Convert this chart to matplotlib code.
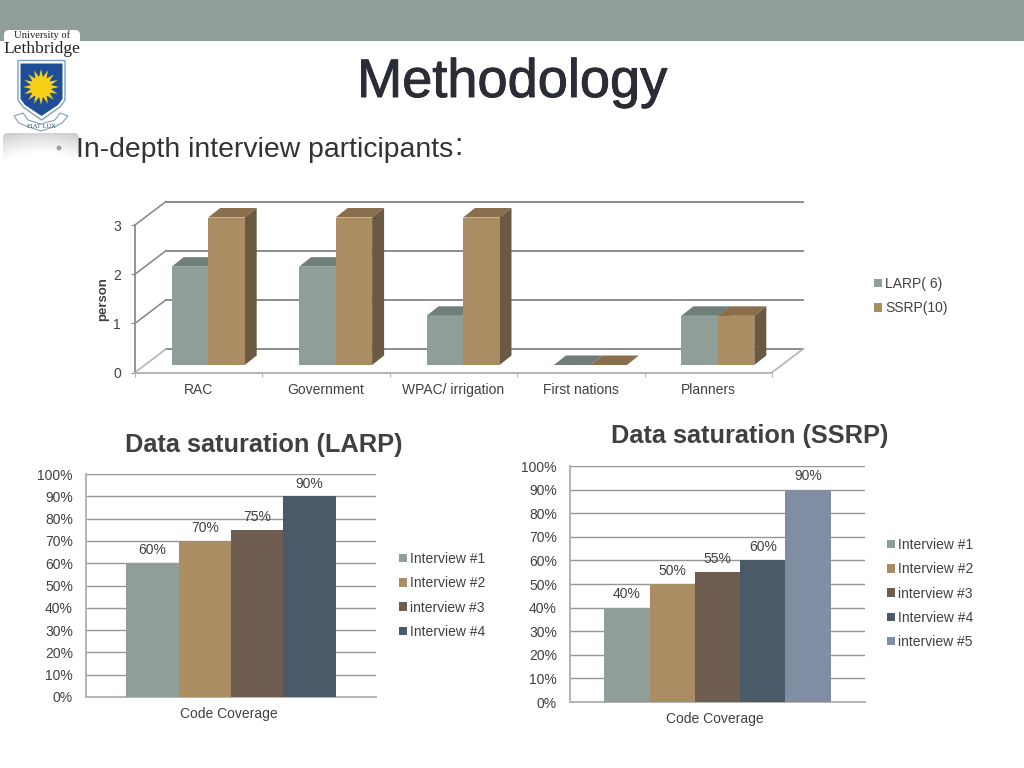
import numpy as np
import matplotlib
matplotlib.use("Agg")
import matplotlib.pyplot as plt
import matplotlib.patheffects as pe
from matplotlib.patches import FancyBboxPatch, Polygon, Rectangle, Circle

plt.rcParams['font.family'] = ['Liberation Sans', 'DejaVu Sans']
W, H = 1024, 768
TXT = '#404040'
GRID = '#8c8c8c'
LIGHT = '#b4b4b4'

# ---- data ----
part_categories = ['RAC', 'Government', 'WPAC/ irrigation', 'First nations', 'Planners']
larp_people = [2, 2, 1, 0, 1]
ssrp_people = [3, 3, 3, 0, 1]
part_series = ['LARP( 6)', 'SSRP(10)']
part_ticks = [0, 1, 2, 3]

larp_series = ['Interview #1', 'Interview #2', 'interview #3', 'Interview #4']
larp_values = [60, 70, 75, 90]
ssrp_series = ['Interview #1', 'Interview #2', 'interview #3', 'Interview #4', 'interview #5']
ssrp_values = [40, 50, 55, 60, 90]
pct_ticks = [0, 10, 20, 30, 40, 50, 60, 70, 80, 90, 100]

TEAL, TAN, BROWN, NAVY, SLATE = '#8F9F98', '#AB8D64', '#705D51', '#4A5A69', '#808DA2'
palette = [TEAL, TAN, BROWN, NAVY, SLATE]

fig = plt.figure(figsize=(W / 100, H / 100), dpi=100, facecolor='white')

def px_axes(l, t, r, b, **kw):
    return fig.add_axes([l / W, 1 - b / H, (r - l) / W, (b - t) / H], **kw)

# ---- slide decoration in pixel coordinates ----
bg = px_axes(0, 0, W, H)
bg.set_xlim(0, W); bg.set_ylim(H, 0); bg.axis('off')
bg.add_patch(Rectangle((0, 0), W, 41, fc='#8F9F98', ec='none'))
# logo card
bg.add_patch(FancyBboxPatch((7, 33), 70, 30, boxstyle='round,pad=3,rounding_size=5', fc='white', ec='none'))
bg.text(42, 35, 'University of', family='Liberation Serif', fontsize=7.6, color='#222222', ha='center', va='center')
bg.text(41.5, 49, 'Lethbridge', family='Liberation Serif', fontsize=12.6, color='#222222', ha='center', va='center')
# shield
bg.add_patch(Polygon([(18, 60.5), (65, 60.5), (65, 100), (60, 107), (41.5, 120), (23, 107), (18, 100)],
                     fc='white', ec='#7f9fc4', lw=1.0))
bg.add_patch(Polygon([(20.5, 63.5), (62.5, 63.5), (62.5, 99), (58, 105), (41.5, 116), (25, 105), (20.5, 99)],
                     fc='#1f4e96', ec='none'))
ang = np.linspace(0, 2 * np.pi, 33)[:-1]
rad = np.where(np.arange(32) % 2 == 0, 18, 10)
bg.add_patch(Polygon(np.c_[41 + rad * np.cos(ang), 87 + rad * np.sin(ang)], fc='#f7cf17', ec='none'))
bg.add_patch(Circle((41, 87), 10.5, fc='#f7cf17', ec='none'))
bg.add_patch(Polygon([(14, 116), (23, 113), (28, 120), (41, 124), (55, 120), (60, 113), (68, 116), (62, 123),
                      (56, 126), (41, 131), (26, 126), (19, 123)],
                     fc='white', ec='#7f9fc4', lw=0.8))
bg.text(41, 126, 'FIAT LUX', family='Liberation Serif', fontsize=4.8, color='#33506e', ha='center', va='center')
# bullet tile
yy = np.linspace(0, 1, 40)[:, None]
xx = np.linspace(-1, 1, 100)[None, :]
grad = 0.78 + 0.21 * yy ** 0.8 + 0.05 * (1 - xx ** 2) * (yy > -1)
tile = bg.imshow(np.clip(grad, 0, 1), extent=(3, 79, 160, 133), cmap='gray', vmin=0, vmax=1, aspect='auto', zorder=1)
clip = FancyBboxPatch((6, 136), 70, 22, boxstyle='round,pad=3,rounding_size=5', fc='none', ec='none', transform=bg.transData)
bg.add_patch(clip)
tile.set_clip_path(clip)
bg.set_xlim(0, W); bg.set_ylim(H, 0)
bg.add_patch(Circle((59, 148), 2.5, fc='#9aa5a0', ec='none', zorder=2))

fig.text(512 / W, 1 - 97 / H, 'Methodology', fontsize=39, color='#2a2d35', ha='center', va='baseline',
         path_effects=[pe.withStroke(linewidth=0.7, foreground='#2a2d35')])
fig.text(76 / W, 1 - 157 / H, 'In-depth interview participants', fontsize=20.4, color='#333333', ha='left', va='baseline')
fig.text(454 / W, 1 - 155 / H, ':', fontsize=22, color='#333333', ha='left', va='baseline')

# ---- pseudo-3D column chart ----
ax = px_axes(135, 225, 772, 372.5)
ax.patch.set_alpha(0)
ax.set_xlim(0, 5); ax.set_ylim(0, 3)
ux, uy = 5 / 637, 3 / 147.5          # data units per pixel
wall_dx, wall_dy = 31 * ux, 23.5 * uy  # depth of the back wall
bar_dx, bar_dy = 9.5 * ux, 7.5 * uy    # front of the bars relative to the floor edge
dep_dx, dep_dy = 12 * ux, 9.5 * uy     # depth of a bar
bw = 36.5 * ux
for s in ['top', 'right']:
    ax.spines[s].set_visible(False)
ax.spines['left'].set_color(GRID); ax.spines['left'].set_linewidth(1.3)
ax.spines['bottom'].set_color(LIGHT); ax.spines['bottom'].set_linewidth(1.4)
for t in part_ticks:
    ax.plot([wall_dx, 5 + wall_dx], [t + wall_dy, t + wall_dy], color=GRID, lw=1.4, clip_on=False, zorder=1)
    ax.plot([0, wall_dx], [t, t + wall_dy], color=GRID if t else LIGHT, lw=1.2, clip_on=False, zorder=1)
ax.plot([5, 5 + wall_dx], [0, wall_dy], color=LIGHT, lw=1.2, clip_on=False, zorder=1)

x = np.arange(len(part_categories)) + 0.5
series = [(larp_people, -1, TEAL, '#6F7F78', '#6F7F78'), (ssrp_people, 0, TAN, '#8A6F4D', '#6B5A42')]
for vals, off, face, top, side in series:
    for xi, v in zip(x, vals):
        x0 = xi + off * bw + bar_dx
        x1 = x0 + bw
        y0, y1 = bar_dy, v + bar_dy
        ax.add_patch(Polygon([(x0, y1), (x1, y1), (x1 + dep_dx, y1 + dep_dy), (x0 + dep_dx, y1 + dep_dy)],
                             fc=top, ec='none', clip_on=False, zorder=3))
        ax.add_patch(Polygon([(x1, y0), (x1 + dep_dx, y0 + dep_dy), (x1 + dep_dx, y1 + dep_dy), (x1, y1)],
                             fc=side, ec='none', clip_on=False, zorder=3))
    ax.bar(x + off * bw + bar_dx, vals, width=bw, bottom=bar_dy, align='edge', color=face, zorder=4, clip_on=False)

ax.set_yticks(part_ticks)
ax.set_xticks(np.arange(6))
ax.set_xticklabels([])
ax.set_xticks(x, minor=True)
ax.set_xticklabels(part_categories, minor=True)
ax.tick_params(axis='x', which='minor', length=0, labelsize=10, labelcolor=TXT, pad=7.5)
ax.tick_params(axis='x', which='major', length=3, color=LIGHT)
ax.tick_params(axis='y', length=3, color=GRID, labelsize=10, labelcolor=TXT, pad=7)
ax.set_ylabel('person', fontsize=9.5, fontweight='bold', color=TXT, labelpad=3)
h = [Rectangle((0, 0), 1, 1, fc=TEAL), Rectangle((0, 0), 1, 1, fc=TAN)]

def legend(axis, handles, labels, lx, ly):
    axis.legend(handles, labels, loc='upper left', bbox_to_anchor=(lx / W, 1 - ly / H),
                bbox_transform=fig.transFigure, frameon=False, fontsize=10, labelcolor=TXT,
                handlelength=0.55, handleheight=0.55, handletextpad=0.25, borderpad=0,
                borderaxespad=0, labelspacing=0.74)

legend(ax, h, part_series, 874, 277)

# ---- 2D percent charts ----
def pct_chart(rect, values, labels, title, title_xy, group, leg_xy):
    a = px_axes(*rect)
    a.patch.set_alpha(0)
    a.set_xlim(0, 1); a.set_ylim(0, 100)
    n = len(values)
    bw2 = group / n
    start = 0.5 - group / 2
    handles = []
    for i, v in enumerate(values):
        c = a.bar(start + i * bw2, v, width=bw2, align='edge', color=palette[i], zorder=3)
        handles.append(c[0])
        a.text(start + (i + 0.5) * bw2, v + 2.6, f'{v}%', ha='center', va='bottom', fontsize=10, color=TXT, zorder=4)
    a.set_yticks(pct_ticks)
    a.set_yticklabels([f'{t}%' for t in pct_ticks])
    a.yaxis.grid(True, color='#969696', lw=1.0, zorder=0)
    a.set_axisbelow(True)
    a.set_xticks([0, 1]); a.set_xticklabels([])
    a.tick_params(axis='x', length=0)
    a.tick_params(axis='y', length=0, labelsize=10, labelcolor=TXT, pad=9.4)
    for s in a.spines.values():
        s.set_color(LIGHT); s.set_linewidth(1.4)
    a.spines['right'].set_visible(False)
    a.spines['top'].set_visible(False)
    a.set_xlabel('Code Coverage', fontsize=10, color=TXT, labelpad=4)
    a.xaxis.label.set_x(0.5 - 2.2 / (rect[2] - rect[0]))
    fig.text(title_xy[0] / W, 1 - title_xy[1] / H, title, fontsize=18.3, fontweight='bold', color=TXT, ha='center', va='center')
    legend(a, handles, labels, *leg_xy)
    return a

pct_chart((86, 474, 376, 697), larp_values, larp_series, 'Data saturation (LARP)', (264, 445), 0.724, (399, 552))
pct_chart((570, 466, 865, 702), ssrp_values, ssrp_series, 'Data saturation (SSRP)', (750, 436), 0.767, (887, 538))

fig.savefig('out.png', dpi=100)
